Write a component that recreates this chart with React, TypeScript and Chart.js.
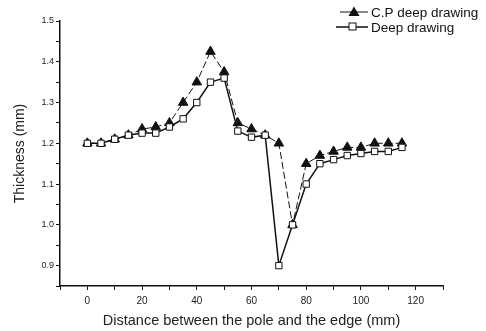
import React, { useEffect, useRef } from "react";
import { Chart, registerables } from "chart.js";

Chart.register(...registerables);

const distances = [0, 5, 10, 15, 20, 25, 30, 35, 40, 45, 50, 55, 60, 65, 70, 75, 80, 85, 90, 95, 100, 105, 110, 115];
const cpDeepDrawing = [1.2, 1.2, 1.21, 1.22, 1.235, 1.24, 1.25, 1.3, 1.35, 1.425, 1.375, 1.25, 1.235, 1.22, 1.2, 1.0, 1.15, 1.17, 1.18, 1.19, 1.19, 1.2, 1.2, 1.2];
const deepDrawing = [1.2, 1.2, 1.21, 1.22, 1.225, 1.225, 1.24, 1.26, 1.3, 1.35, 1.36, 1.23, 1.215, 1.22, 0.9, 1.0, 1.1, 1.15, 1.16, 1.17, 1.175, 1.18, 1.18, 1.19];
const seriesNames = ["C.P deep drawing", "Deep drawing"];
const xTitle = "Distance between the pole and the edge (mm)";
const yTitle = "Thickness (mm)";

const FONT = "'Liberation Sans', Arial, sans-serif";

const legendPlugin = {
  id: "customLegend",
  afterDraw(chart: any) {
    const ctx = chart.ctx;
    ctx.save();
    ctx.font = `13.5px ${FONT}`;
    ctx.fillStyle = "#111";
    ctx.strokeStyle = "#111";
    ctx.textBaseline = "middle";
    // row 1
    let y = 12;
    ctx.lineWidth = 1;
    ctx.beginPath();
    ctx.moveTo(340, y);
    ctx.lineTo(368, y);
    ctx.stroke();
    ctx.beginPath();
    ctx.moveTo(354, y - 5.5);
    ctx.lineTo(359.5, y + 4);
    ctx.lineTo(348.5, y + 4);
    ctx.closePath();
    ctx.fill();
    ctx.fillText(seriesNames[0], 371, y + 1);
    // row 2
    y = 27;
    ctx.lineWidth = 1.5;
    ctx.beginPath();
    ctx.moveTo(336, y);
    ctx.lineTo(368, y);
    ctx.stroke();
    ctx.fillStyle = "#fff";
    ctx.fillRect(349, y - 4, 7, 7);
    ctx.lineWidth = 1;
    ctx.strokeRect(349, y - 4, 7, 7);
    ctx.fillStyle = "#111";
    ctx.fillText(seriesNames[1], 371, y + 1);
    ctx.restore();
  },
};

export default function App() {
  const ref = useRef<HTMLCanvasElement | null>(null);
  useEffect(() => {
    document.body.style.margin = "0";
    const ctx = ref.current!.getContext("2d")!;
    const chart = new Chart(ctx, {
      type: "line",
      data: {
        datasets: [
          {
            label: seriesNames[0],
            data: distances.map((x, i) => ({ x, y: cpDeepDrawing[i] })),
            order: 1,
            borderColor: "#111",
            borderWidth: 1,
            borderDash: [7, 3],
            backgroundColor: "#111",
            pointStyle: "triangle",
            pointRadius: 5.5,
            pointBorderWidth: 1,
            pointBackgroundColor: "#111",
            pointBorderColor: "#111",
            tension: 0,
          },
          {
            label: seriesNames[1],
            data: distances.map((x, i) => ({ x, y: deepDrawing[i] })),
            order: 0,
            borderColor: "#111",
            borderWidth: 1.5,
            backgroundColor: "#fff",
            pointStyle: "rect",
            pointRadius: 4.5,
            pointBorderWidth: 1,
            pointBackgroundColor: "#fff",
            pointBorderColor: "#111",
            tension: 0,
          },
        ],
      },
      options: {
        responsive: false,
        animation: false,
        layout: { padding: { top: 21, right: 43, left: 0, bottom: 0 } },
        plugins: { legend: { display: false }, tooltip: { enabled: false } },
        scales: {
          x: {
            type: "linear",
            min: -10,
            max: 130,
            afterFit: (s: any) => { s.height = 45; },
            ticks: {
              stepSize: 10,
              color: "#222",
              font: { family: FONT, size: 10 },
              padding: 5,
              maxRotation: 0,
              autoSkip: false,
              callback: (v: any) => (v >= 0 && v % 20 === 0 ? String(v) : ""),
            },
            grid: { drawOnChartArea: false, drawTicks: true, tickLength: 4, tickColor: "#111" },
            border: { display: true, color: "#111", width: 1.5 },
            title: {
              display: true,
              text: xTitle,
              color: "#222",
              font: { family: FONT, size: 14.5 },
              padding: { top: 4, bottom: 1 },
            },
          },
          y: {
            type: "linear",
            min: 0.85,
            max: 1.5,
            afterFit: (s: any) => { s.width = 60; },
            ticks: {
              stepSize: 0.05,
              color: "#222",
              font: { family: FONT, size: 9 },
              padding: 2,
              autoSkip: false,
              callback: (v: any) => {
                const k = Math.round(v * 100);
                return k % 10 === 0 ? (k / 100).toFixed(1) : "";
              },
            },
            grid: { drawOnChartArea: false, drawTicks: true, tickLength: 4, tickColor: "#111" },
            border: { display: true, color: "#111", width: 1.5 },
            title: {
              display: true,
              text: yTitle,
              color: "#222",
              font: { family: FONT, size: 14 },
              padding: { top: 12, bottom: 0 },
            },
          },
        },
      },
      plugins: [legendPlugin],
    });
    return () => chart.destroy();
  }, []);
  return (
    <div style={{ width: 486, height: 331, background: "#fff" }}>
      <canvas ref={ref} width={486} height={331} style={{ display: "block" }} />
    </div>
  );
}
